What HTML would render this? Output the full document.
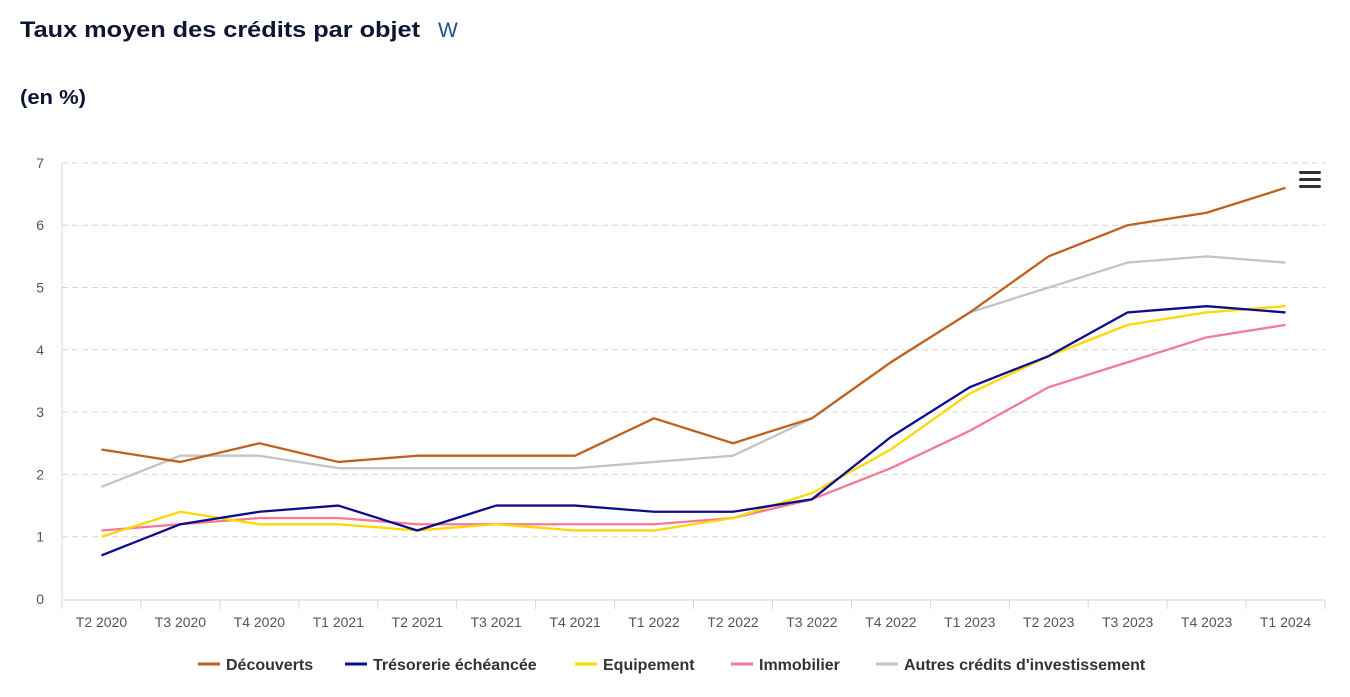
<!DOCTYPE html>
<html><head><meta charset="utf-8"><style>
body{margin:0;width:1350px;height:692px;background:#fff;overflow:hidden;font-family:"Liberation Sans",sans-serif}
</style></head><body>
<svg id="s" width="1350" height="692" xmlns="http://www.w3.org/2000/svg" font-family="Liberation Sans, sans-serif">
<text x="20" y="37" font-size="22" font-weight="bold" fill="#0e1433" textLength="400" lengthAdjust="spacingAndGlyphs">Taux moyen des crédits par objet</text>
<text x="438" y="37" font-size="21" fill="#1f4e8c">W</text>
<text x="20" y="104" font-size="20" font-weight="bold" fill="#0e1433" textLength="66" lengthAdjust="spacingAndGlyphs">(en %)</text>
<g fill="#333" font-size="17"><rect x="1299" y="171" width="22" height="3" rx="1.5"/><rect x="1299" y="178" width="22" height="3" rx="1.5"/><rect x="1299" y="185" width="22" height="3" rx="1.5"/></g>
</svg>
<script>
const s=document.getElementById('s'),NS='http://www.w3.org/2000/svg';
function el(t,a,txt){const e=document.createElementNS(NS,t);for(const k in a)e.setAttribute(k,a[k]);if(txt!=null)e.textContent=txt;s.appendChild(e);return e;}
const x0=62,x1=1325,y0=599,u=62.3,n=16,w=(x1-x0)/n;
const X=i=>x0+w*(i+0.5),Y=v=>y0-v*u;
for(let v=1;v<=7;v++)el('line',{x1:x0,x2:x1,y1:Y(v),y2:Y(v),stroke:'#d6d6d6','stroke-dasharray':'6,4'});
for(let v=0;v<=7;v++)el('text',{x:44,y:Y(v)+5,'font-size':14,fill:'#555','text-anchor':'end'},v);
el('line',{x1:x0,x2:x0,y1:163,y2:y0,stroke:'#ccd6eb'});
el('line',{x1:x0,x2:x1,y1:y0+1,y2:y0+1,stroke:'#ccd6eb'});
const cats=['T2 2020','T3 2020','T4 2020','T1 2021','T2 2021','T3 2021','T4 2021','T1 2022','T2 2022','T3 2022','T4 2022','T1 2023','T2 2023','T3 2023','T4 2023','T1 2024'];
for(let i=0;i<=n;i++)el('line',{x1:x0+w*i,x2:x0+w*i,y1:y0+1,y2:y0+10,stroke:'#ccd6eb'});
cats.forEach((c,i)=>el('text',{x:X(i),y:627,'font-size':14,fill:'#555','text-anchor':'middle'},c));
const S=[
['#c0601d','Découverts',[2.4,2.2,2.5,2.2,2.3,2.3,2.3,2.9,2.5,2.9,3.8,4.6,5.5,6.0,6.2,6.6]],
['#0d0d8c','Trésorerie échéancée',[0.7,1.2,1.4,1.5,1.1,1.5,1.5,1.4,1.4,1.6,2.6,3.4,3.9,4.6,4.7,4.6]],
['#ffd800','Equipement',[1.0,1.4,1.2,1.2,1.1,1.2,1.1,1.1,1.3,1.7,2.4,3.3,3.9,4.4,4.6,4.7]],
['#f47a97','Immobilier',[1.1,1.2,1.3,1.3,1.2,1.2,1.2,1.2,1.3,1.6,2.1,2.7,3.4,3.8,4.2,4.4]],
['#c4c4c4','Autres crédits d\'investissement',[1.8,2.3,2.3,2.1,2.1,2.1,2.1,2.2,2.3,2.9,3.8,4.6,5.0,5.4,5.5,5.4]]];
[4,3,2,1,0].forEach(k=>{const d=S[k];el('polyline',{points:d[2].map((v,i)=>X(i)+','+Y(v)).join(' '),fill:'none',stroke:d[0],'stroke-width':2.3,'stroke-linejoin':'round'});});
const lx=[198,345,575,731,876];
S.forEach((d,k)=>{el('line',{x1:lx[k],x2:lx[k]+22,y1:664,y2:664,stroke:d[0],'stroke-width':3});el('text',{x:lx[k]+28,y:670,'font-size':16,'font-weight':'bold',fill:'#333'},d[1]);});
</script>
</body></html>
